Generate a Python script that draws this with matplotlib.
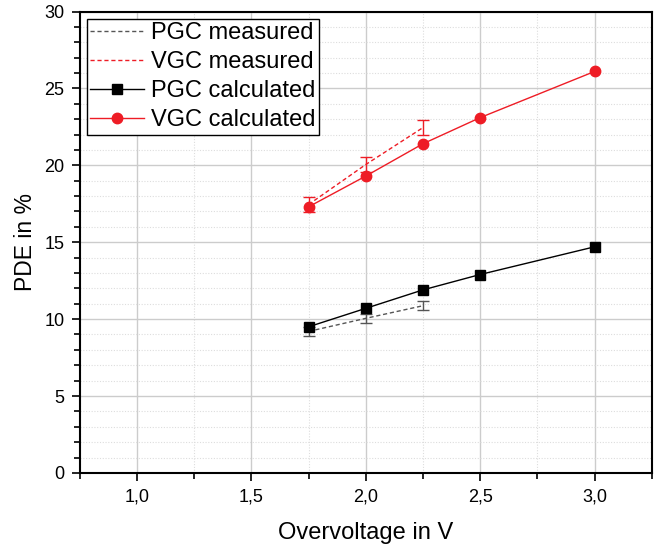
import matplotlib
matplotlib.use("Agg")
import matplotlib.pyplot as plt
from matplotlib.ticker import MultipleLocator, FuncFormatter

plt.rcParams['font.family'] = ['Liberation Sans', 'DejaVu Sans']

# data
v_meas = [1.75, 2.0, 2.25]
pgc_meas = [9.2, 10.05, 10.87]
pgc_meas_err = [0.32, 0.28, 0.3]
vgc_meas = [17.45, 20.05, 22.45]
vgc_meas_err = [0.48, 0.48, 0.5]

v_calc = [1.75, 2.0, 2.25, 2.5, 3.0]
pgc_calc = [9.5, 10.7, 11.9, 12.9, 14.7]
vgc_calc = [17.3, 19.3, 21.4, 23.1, 26.1]

red = '#ee1c25'
gray = '#555555'
dash = (0, (3, 2))

fig = plt.figure(figsize=(6.65, 5.48), dpi=100)
ax = fig.add_axes([0.120, 0.137, 0.860, 0.842])

# measured: dashed lines with error bars
ax.errorbar(v_meas, pgc_meas, yerr=pgc_meas_err, fmt='none', ecolor=gray,
            capsize=4, capthick=1, elinewidth=1, zorder=3)
ax.errorbar(v_meas, vgc_meas, yerr=vgc_meas_err, fmt='none', ecolor=red,
            capsize=4, capthick=1, elinewidth=1, zorder=3)
ax.plot(v_meas, pgc_meas, color=gray, ls=dash, lw=1, label='PGC measured', zorder=3)
ax.plot(v_meas, vgc_meas, color=red, ls=dash, lw=1, label='VGC measured', zorder=3)

# calculated
ax.plot(v_calc, pgc_calc, color='black', lw=1, marker='s', ms=7, label='PGC calculated', zorder=4)
ax.plot(v_calc, vgc_calc, color=red, lw=1, marker='o', ms=7.5, label='VGC calculated', zorder=4)

ax.set_xlim(0.75, 3.25)
ax.set_ylim(0, 30)
ax.xaxis.set_major_locator(MultipleLocator(0.5))
ax.xaxis.set_minor_locator(MultipleLocator(0.25))
ax.yaxis.set_major_locator(MultipleLocator(5))
ax.yaxis.set_minor_locator(MultipleLocator(1))
ax.xaxis.set_major_formatter(FuncFormatter(lambda x, p: f'{x:.1f}'.replace('.', ',')))

ax.grid(which='major', color='#cccccc', lw=1, ls='-')
ax.grid(which='minor', color='#dddddd', lw=0.8, ls=(0, (1, 1.5)))
ax.set_axisbelow(True)

ax.tick_params(which='major', direction='out', length=6, width=1.2, labelsize=13, pad=5)
ax.tick_params(which='minor', direction='out', length=4, width=1.2)
for s in ax.spines.values():
    s.set_linewidth(1.5)

ax.set_xlabel('Overvoltage in V', fontsize=17, labelpad=12)
ax.set_ylabel('PDE in %', fontsize=16.5, labelpad=5)

leg = ax.legend(loc='upper left', fontsize=17, frameon=True, fancybox=False,
                edgecolor='black', framealpha=1, handlelength=2.25, borderpad=0.15,
                labelspacing=0.3, handletextpad=0.3, borderaxespad=0.3)
leg.get_frame().set_linewidth(1)

fig.savefig('out.png', dpi=100)
